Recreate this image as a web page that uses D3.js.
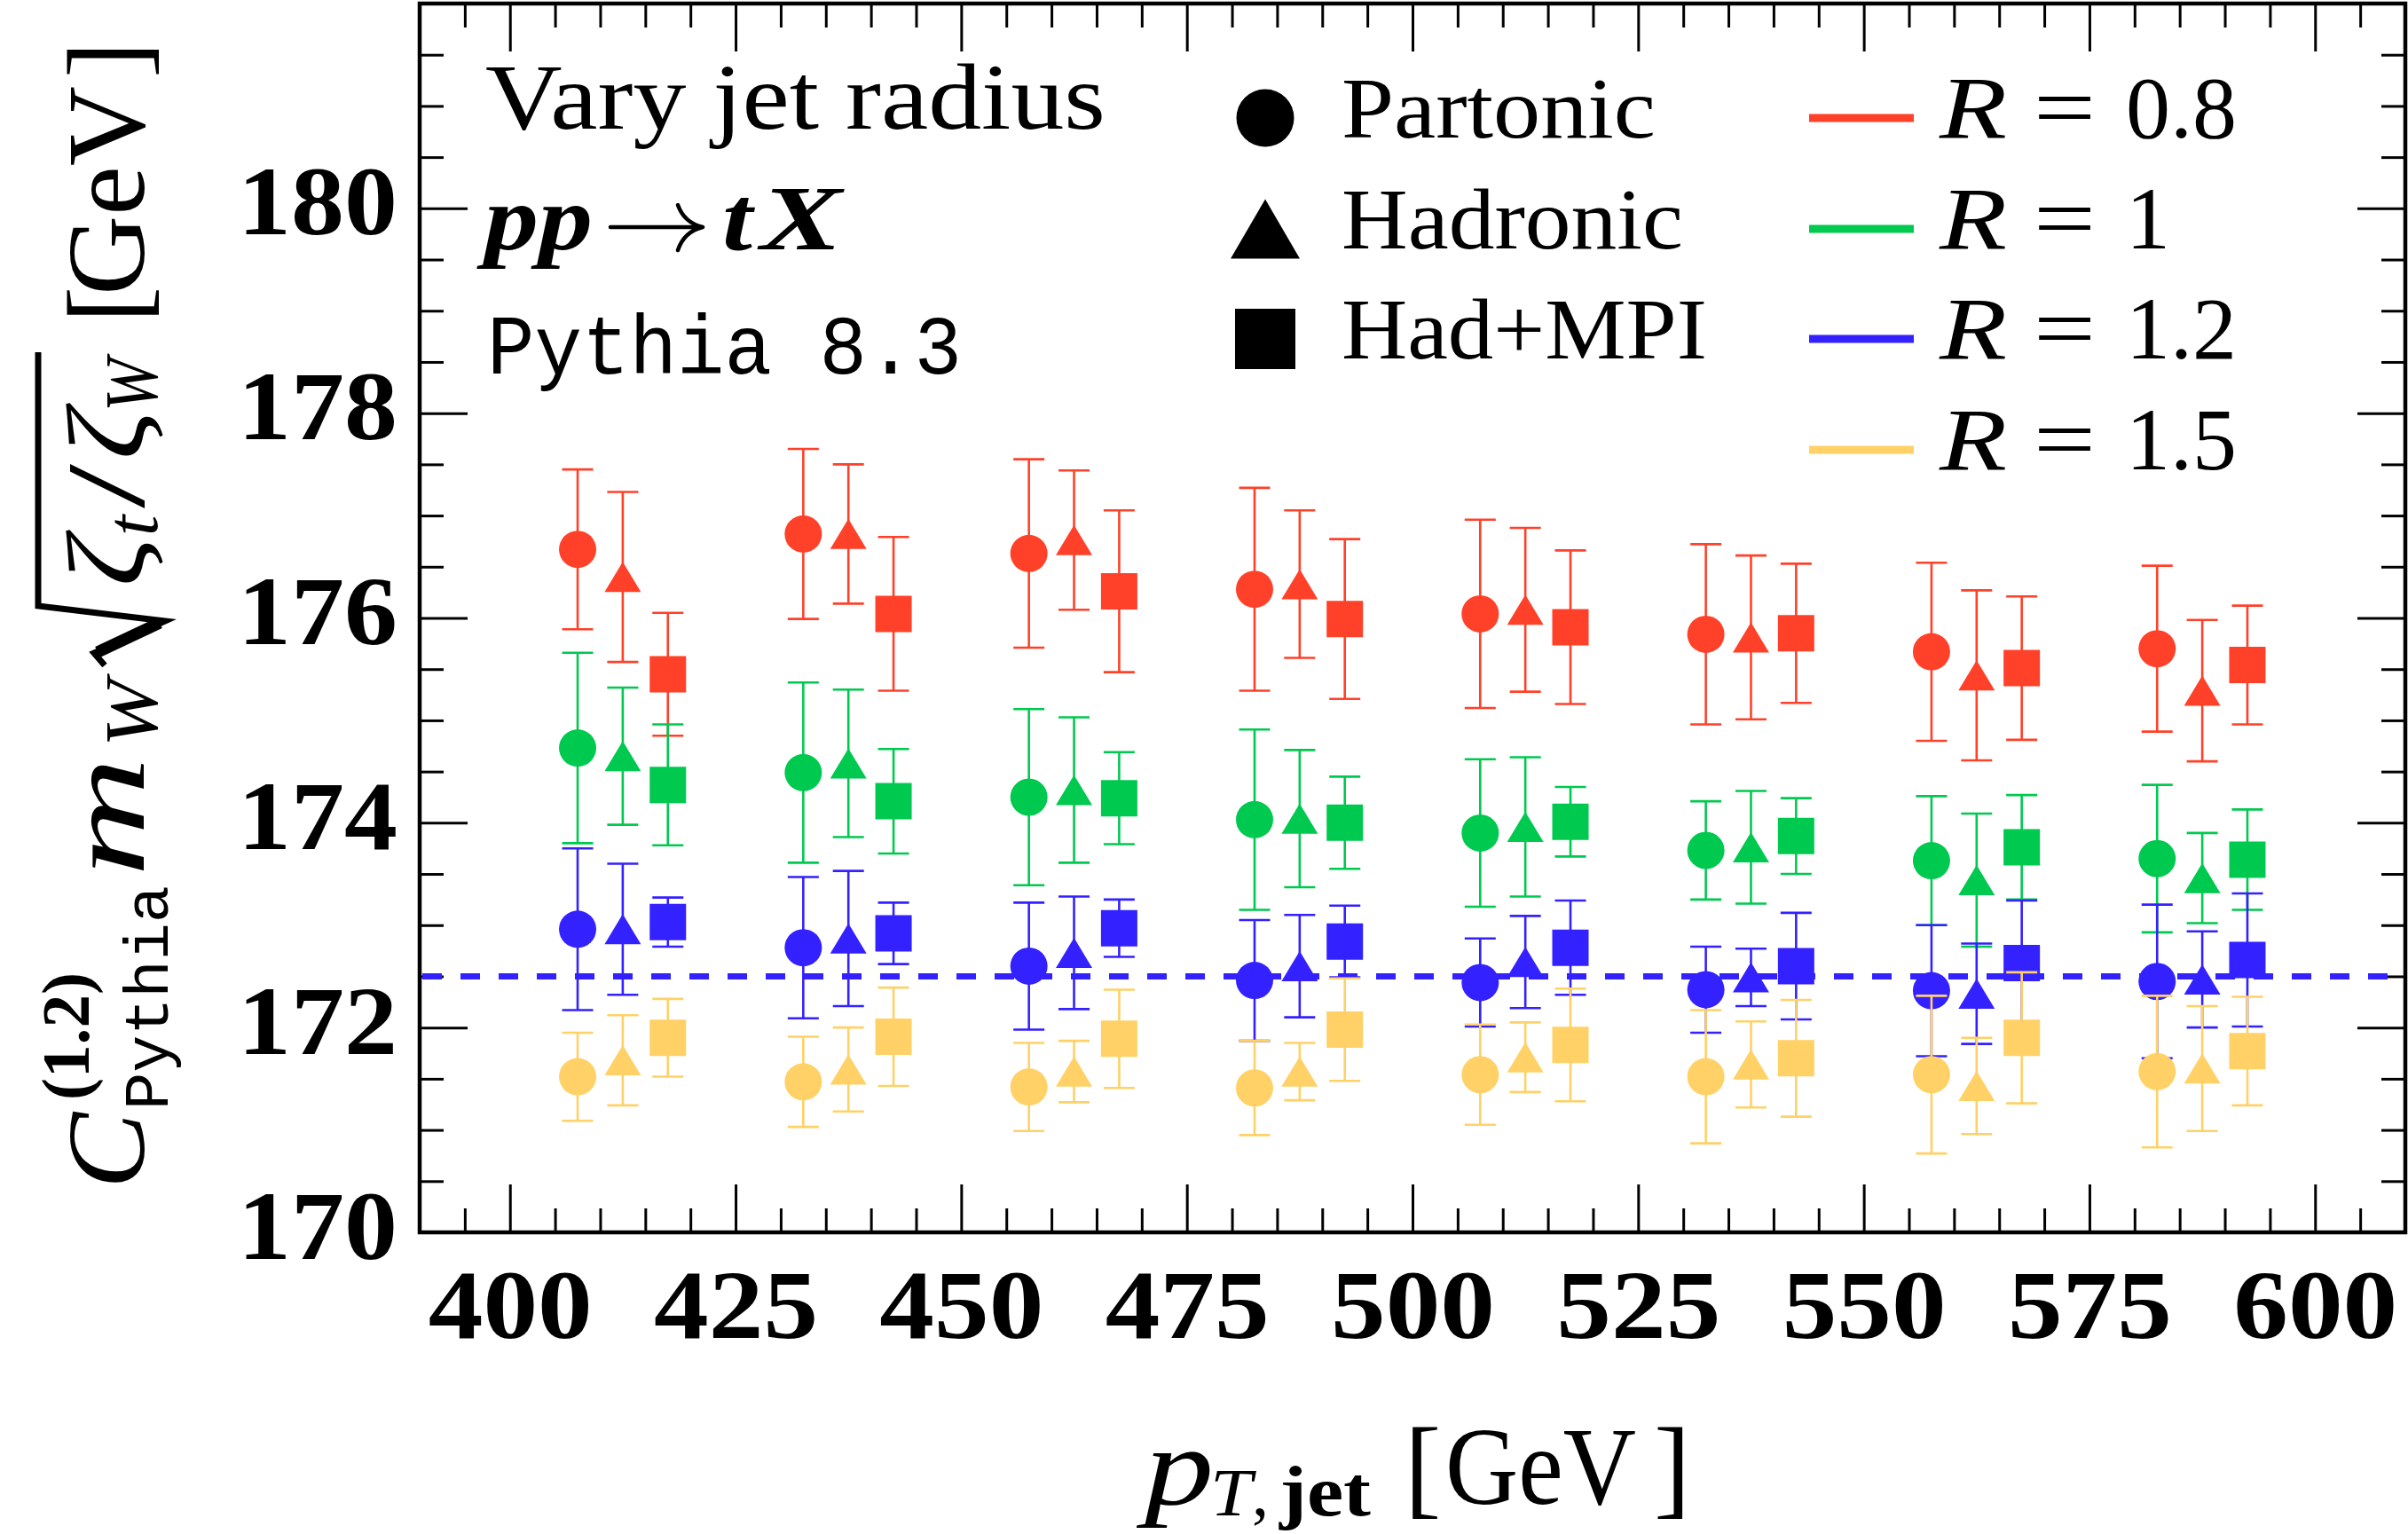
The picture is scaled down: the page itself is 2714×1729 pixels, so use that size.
<!DOCTYPE html>
<html>
<head>
<meta charset="utf-8">
<script src="https://cdn.jsdelivr.net/npm/d3@7"></script>
<style>
  html, body { margin: 0; padding: 0; background: #ffffff; }
  svg { display: block; }
</style>
</head>
<body>
<svg id="chart" width="2714" height="1729"></svg>
<script>
// ---------------------------------------------------------------------------
// Data: extracted top-mass proxy vs. jet pT for four jet radii and three
// simulation levels (Partonic, Hadronic, Had+MPI). Values in GeV.
// ---------------------------------------------------------------------------
const ptCenters = [412.5, 437.5, 462.5, 487.5, 512.5, 537.5, 562.5, 587.5];
const levelNames = ["Partonic", "Hadronic", "Had+MPI"];
const levelShift = [-5, 0, 5];            // GeV offset of each level inside a bin
const levelSymbols = ["circle", "triangle", "square"];
const radiusLabels = ["0.8", "1", "1.2", "1.5"];
const radiusColors = ["#ff4129", "#00c94f", "#3321ff", "#ffd166"];
const xTickValues = [400, 425, 450, 475, 500, 525, 550, 575, 600];
const yTickValues = [170, 172, 174, 176, 178, 180];
const referenceMass = 172.5;

// R = 0.8
const r08Partonic    = [176.67, 176.82, 176.63, 176.28, 176.04, 175.84, 175.67, 175.70];
const r08PartonicErr = [0.78, 0.83, 0.92, 0.99, 0.92, 0.88, 0.87, 0.81];
const r08Hadronic    = [176.40, 176.82, 176.76, 176.33, 176.08, 175.81, 175.44, 175.29];
const r08HadronicErr = [0.83, 0.68, 0.68, 0.72, 0.80, 0.80, 0.83, 0.69];
const r08HadMPI      = [175.45, 176.04, 176.26, 175.99, 175.91, 175.85, 175.51, 175.54];
const r08HadMPIErr   = [0.60, 0.75, 0.79, 0.78, 0.75, 0.68, 0.70, 0.58];

// R = 1
const r10Partonic    = [174.73, 174.49, 174.25, 174.03, 173.90, 173.73, 173.63, 173.65];
const r10PartonicErr = [0.93, 0.88, 0.86, 0.88, 0.72, 0.48, 0.63, 0.72];
const r10Hadronic    = [174.65, 174.58, 174.32, 174.04, 173.96, 173.76, 173.44, 173.46];
const r10HadronicErr = [0.67, 0.72, 0.71, 0.67, 0.68, 0.55, 0.65, 0.44];
const r10HadMPI      = [174.37, 174.21, 174.24, 174.00, 174.01, 173.87, 173.76, 173.64];
const r10HadMPIErr   = [0.59, 0.51, 0.45, 0.45, 0.34, 0.37, 0.51, 0.49];

// R = 1.2
const r12Partonic    = [172.96, 172.78, 172.60, 172.46, 172.44, 172.37, 172.36, 172.45];
const r12PartonicErr = [0.79, 0.69, 0.62, 0.59, 0.43, 0.42, 0.64, 0.75];
const r12Hadronic    = [172.96, 172.87, 172.73, 172.60, 172.64, 172.49, 172.33, 172.47];
const r12HadronicErr = [0.64, 0.66, 0.55, 0.50, 0.45, 0.28, 0.49, 0.47];
const r12HadMPI      = [173.03, 172.92, 172.97, 172.84, 172.78, 172.60, 172.63, 172.66];
const r12HadMPIErr   = [0.24, 0.30, 0.28, 0.35, 0.46, 0.52, 0.61, 0.65];

// R = 1.5
const r15Partonic    = [171.52, 171.47, 171.42, 171.41, 171.54, 171.52, 171.54, 171.57];
const r15PartonicErr = [0.43, 0.44, 0.43, 0.46, 0.49, 0.65, 0.77, 0.74];
const r15Hadronic    = [171.68, 171.59, 171.57, 171.57, 171.71, 171.64, 171.43, 171.60];
const r15HadronicErr = [0.44, 0.41, 0.30, 0.28, 0.34, 0.42, 0.47, 0.61];
const r15HadMPI      = [171.90, 171.91, 171.89, 171.98, 171.83, 171.70, 171.90, 171.77];
const r15HadMPIErr   = [0.38, 0.48, 0.48, 0.50, 0.55, 0.57, 0.64, 0.53];

const seriesValues = [
  [r08Partonic, r08Hadronic, r08HadMPI],
  [r10Partonic, r10Hadronic, r10HadMPI],
  [r12Partonic, r12Hadronic, r12HadMPI],
  [r15Partonic, r15Hadronic, r15HadMPI]
];
const seriesErrors = [
  [r08PartonicErr, r08HadronicErr, r08HadMPIErr],
  [r10PartonicErr, r10HadronicErr, r10HadMPIErr],
  [r12PartonicErr, r12HadronicErr, r12HadMPIErr],
  [r15PartonicErr, r15HadronicErr, r15HadMPIErr]
];

// ---------------------------------------------------------------------------
// Layout
// ---------------------------------------------------------------------------
const serif = "'Liberation Serif', 'Times New Roman', serif";
const mono = "'Liberation Mono', 'DejaVu Sans Mono', monospace";
const frame = { left: 473, right: 2711, top: 4, bottom: 1389 };

const svg = d3.select("#chart");
const x = d3.scaleLinear().domain([390, 610]).range([frame.left, frame.right]);
const y = d3.scaleLinear().domain([170, 182]).range([frame.bottom, frame.top]);

function addText(parent, o) {
  const t = parent.append("text")
    .attr("x", o.x).attr("y", o.y || 0)
    .attr("font-family", o.mono ? mono : serif)
    .attr("font-size", o.size)
    .attr("font-style", o.italic ? "italic" : "normal")
    .attr("font-weight", o.bold ? "bold" : "normal")
    .attr("text-anchor", o.anchor || "start")
    .attr("fill", "#000")
    .text(o.t);
  if (o.w) t.attr("textLength", o.w).attr("lengthAdjust", "spacingAndGlyphs");
  return t;
}

function symbolPath(kind, w, h) {
  if (kind === "circle") {
    const r = w / 2;
    return `M${-r},0A${r},${r} 0 1,0 ${r},0A${r},${r} 0 1,0 ${-r},0Z`;
  }
  if (kind === "triangle") {
    return `M0,${-h / 2}L${w / 2},${h / 2}L${-w / 2},${h / 2}Z`;
  }
  return `M${-w / 2},${-h / 2}H${w / 2}V${h / 2}H${-w / 2}Z`;
}
const markerSize = {
  circle: [42, 42],
  triangle: [41, 34],
  square: [41, 41]
};

// ---------------------------------------------------------------------------
// Axes (ticks on all four sides, pointing inwards)
// ---------------------------------------------------------------------------
const majorLen = 54, minorLen = 27;
const xMinor = d3.range(390, 611, 5).filter(v => !xTickValues.includes(v));
const yMinor = d3.range(170, 182.01, 0.5).filter(v => !yTickValues.includes(v));

function styleAxis(g) {
  g.select(".domain").remove();
  g.selectAll(".tick line").attr("stroke", "#000").attr("stroke-width", 3);
}

const axes = svg.append("g").attr("class", "axes");
// bottom
axes.append("g").attr("transform", `translate(0,${frame.bottom})`)
  .call(d3.axisBottom(x).tickValues(xTickValues).tickSize(-majorLen).tickSizeOuter(0))
  .call(styleAxis)
  .call(g => g.selectAll(".tick text")
    .attr("y", 119).attr("dy", null)
    .attr("font-family", serif).attr("font-weight", "bold").attr("font-size", 111)
    .attr("fill", "#000")
    .attr("textLength", 185).attr("lengthAdjust", "spacingAndGlyphs"));
axes.append("g").attr("transform", `translate(0,${frame.bottom})`)
  .call(d3.axisBottom(x).tickValues(xMinor).tickSize(-minorLen).tickFormat(""))
  .call(styleAxis);
// top
axes.append("g").attr("transform", `translate(0,${frame.top})`)
  .call(d3.axisTop(x).tickValues(xTickValues).tickSize(-majorLen).tickFormat(""))
  .call(styleAxis);
axes.append("g").attr("transform", `translate(0,${frame.top})`)
  .call(d3.axisTop(x).tickValues(xMinor).tickSize(-minorLen).tickFormat(""))
  .call(styleAxis);
// left
axes.append("g").attr("transform", `translate(${frame.left},0)`)
  .call(d3.axisLeft(y).tickValues(yTickValues).tickSize(-majorLen).tickSizeOuter(0))
  .call(styleAxis)
  .call(g => g.selectAll(".tick text")
    .attr("x", -25).attr("dy", null).attr("y", 29)
    .attr("font-family", serif).attr("font-weight", "bold").attr("font-size", 111)
    .attr("fill", "#000")
    .attr("textLength", 180).attr("lengthAdjust", "spacingAndGlyphs"));
axes.append("g").attr("transform", `translate(${frame.left},0)`)
  .call(d3.axisLeft(y).tickValues(yMinor).tickSize(-minorLen).tickFormat(""))
  .call(styleAxis);
// right
axes.append("g").attr("transform", `translate(${frame.right},0)`)
  .call(d3.axisRight(y).tickValues(yTickValues).tickSize(-majorLen).tickFormat(""))
  .call(styleAxis);
axes.append("g").attr("transform", `translate(${frame.right},0)`)
  .call(d3.axisRight(y).tickValues(yMinor).tickSize(-minorLen).tickFormat(""))
  .call(styleAxis);

// frame
svg.append("rect")
  .attr("x", frame.left).attr("y", frame.top)
  .attr("width", frame.right - frame.left).attr("height", frame.bottom - frame.top)
  .attr("fill", "none").attr("stroke", "#000").attr("stroke-width", 4.5);

// ---------------------------------------------------------------------------
// Reference line at the input top mass
// ---------------------------------------------------------------------------
svg.append("line")
  .attr("x1", frame.left + 3).attr("x2", frame.right - 3)
  .attr("y1", y(referenceMass)).attr("y2", y(referenceMass))
  .attr("stroke", radiusColors[2]).attr("stroke-width", 7)
  .attr("stroke-dasharray", "22,21");

// ---------------------------------------------------------------------------
// Points with error bars
// ---------------------------------------------------------------------------
const points = svg.append("g").attr("class", "points");
radiusLabels.forEach((rl, ri) => {
  const color = radiusColors[ri];
  levelNames.forEach((ln, li) => {
    const vals = seriesValues[ri][li];
    const errs = seriesErrors[ri][li];
    const rows = ptCenters.map((pt, k) => ({ pt: pt + levelShift[li], v: vals[k], e: errs[k] }));
    const g = points.append("g");
    const bars = g.selectAll("g.err").data(rows).join("g").attr("class", "err")
      .attr("stroke", color).attr("stroke-width", 2.6);
    bars.append("line")
      .attr("x1", d => x(d.pt)).attr("x2", d => x(d.pt))
      .attr("y1", d => y(d.v + d.e)).attr("y2", d => y(d.v - d.e));
    bars.append("line")
      .attr("x1", d => x(d.pt) - 17.5).attr("x2", d => x(d.pt) + 17.5)
      .attr("y1", d => y(d.v + d.e)).attr("y2", d => y(d.v + d.e));
    bars.append("line")
      .attr("x1", d => x(d.pt) - 17.5).attr("x2", d => x(d.pt) + 17.5)
      .attr("y1", d => y(d.v - d.e)).attr("y2", d => y(d.v - d.e));
    const [mw, mh] = markerSize[levelSymbols[li]];
    g.selectAll("path.mk").data(rows).join("path").attr("class", "mk")
      .attr("transform", d => `translate(${x(d.pt)},${y(d.v)})`)
      .attr("d", symbolPath(levelSymbols[li], mw, mh))
      .attr("fill", color);
  });
});

// ---------------------------------------------------------------------------
// Annotation text block (top left)
// ---------------------------------------------------------------------------
const notes = svg.append("g");
addText(notes, { t: "Vary jet radius", x: 547, y: 145, size: 105, w: 699 });
addText(notes, { t: "pp", x: 546, y: 281, size: 103, bold: true, italic: true, w: 122 });
// long arrow of the process label
notes.append("path")
  .attr("d", "M688,256H788M764,231Q771,251 792,256M792,256Q771,261 764,282")
  .attr("fill", "none").attr("stroke", "#000").attr("stroke-width", 4.5)
  .attr("stroke-linecap", "round");
addText(notes, { t: "t", x: 814, y: 281, size: 103, bold: true, italic: true, w: 34 });
addText(notes, { t: "X", x: 857, y: 281, size: 103, bold: true, italic: true, w: 92 });
addText(notes, { t: "Pythia 8.3", x: 549, y: 421, size: 95, mono: true, w: 535 });

// ---------------------------------------------------------------------------
// Legends: marker = simulation level, colour = jet radius
// ---------------------------------------------------------------------------
const legend = svg.append("g");
const rowY = [133, 258, 382, 507];
const legendMarker = { circle: [65, 65], triangle: [78, 67], square: [68, 68] };
const levelTextWidth = [354, 385, 412];
levelNames.forEach((ln, li) => {
  const [w, h] = legendMarker[levelSymbols[li]];
  legend.append("path")
    .attr("transform", `translate(1426,${rowY[li]})`)
    .attr("d", symbolPath(levelSymbols[li], w, h))
    .attr("fill", "#000");
  addText(legend, { t: ln, x: 1512, y: rowY[li] + 22, size: 98, w: levelTextWidth[li] });
});
radiusLabels.forEach((rl, ri) => {
  legend.append("line")
    .attr("x1", 2039).attr("x2", 2157)
    .attr("y1", rowY[ri]).attr("y2", rowY[ri])
    .attr("stroke", radiusColors[ri]).attr("stroke-width", 9);
  addText(legend, { t: "R", x: 2186, y: rowY[ri] + 22, size: 100, italic: true, w: 76 });
  addText(legend, { t: "=", x: 2292, y: rowY[ri] + 22, size: 100, w: 70 });
  addText(legend, { t: rl, x: 2396, y: rowY[ri] + 22, size: 100 });
});

// ---------------------------------------------------------------------------
// Axis titles
// ---------------------------------------------------------------------------
const xl = svg.append("g");
addText(xl, { t: "p", x: 1290, y: 1695, size: 124, italic: true, w: 78 });
addText(xl, { t: "T", x: 1364, y: 1708, size: 76, italic: true, w: 47 });
addText(xl, { t: ",", x: 1411, y: 1708, size: 76 });
addText(xl, { t: "jet", x: 1442, y: 1708, size: 80, bold: true, w: 103 });
addText(xl, { t: "[", x: 1583, y: 1695, size: 124 });
addText(xl, { t: "GeV", x: 1629, y: 1695, size: 124, w: 215 });
addText(xl, { t: "]", x: 1864, y: 1695, size: 124 });

const yl = svg.append("g").attr("transform", "translate(162,1340) rotate(-90)");
addText(yl, { t: "C", x: 0, y: 0, size: 124, italic: true, w: 86 });
addText(yl, { t: "(1.2)", x: 100, y: -62, size: 76, bold: true, w: 144 });
addText(yl, { t: "Pythia", x: 89, y: 27, size: 70, mono: true, w: 253 });
addText(yl, { t: "m", x: 352, y: 0, size: 124, italic: true, w: 135 });
addText(yl, { t: "W", x: 498, y: 15, size: 84, italic: true, w: 76 });
// radical sign
yl.append("path")
  .attr("d", "M590,-44L604,-56L640,24L657,-119L943,-119")
  .attr("fill", "none").attr("stroke", "#000").attr("stroke-width", 7)
  .attr("stroke-linejoin", "miter");
yl.append("path")
  .attr("d", "M605,-52L638,18")
  .attr("fill", "none").attr("stroke", "#000").attr("stroke-width", 13);
addText(yl, { t: "\u03B6", x: 679, y: 0, size: 124, italic: true, w: 56 });
addText(yl, { t: "t", x: 736, y: 15, size: 84, italic: true });
addText(yl, { t: "/", x: 767, y: 0, size: 124, w: 50 });
addText(yl, { t: "\u03B6", x: 822, y: 0, size: 124, italic: true, w: 56 });
addText(yl, { t: "W", x: 876, y: 15, size: 84, italic: true, w: 60 });
addText(yl, { t: "[", x: 976, y: 0, size: 124 });
addText(yl, { t: "GeV", x: 1007, y: 0, size: 124, w: 236 });
addText(yl, { t: "]", x: 1252, y: 0, size: 124 });
</script>
</body>
</html>
